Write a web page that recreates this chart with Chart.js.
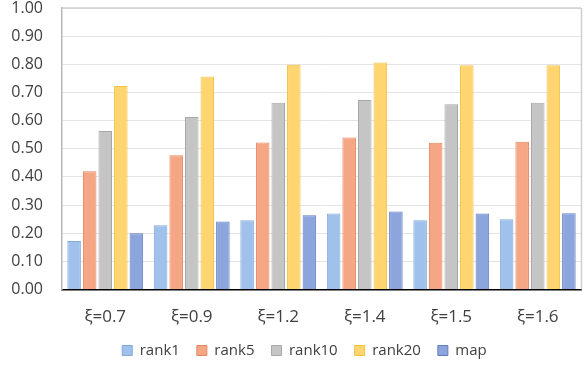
<!DOCTYPE html>
<html>
<head>
<meta charset="utf-8">
<script src="https://cdn.jsdelivr.net/npm/chart.js@4/dist/chart.umd.min.js"></script>
<style>
  html, body { margin: 0; padding: 0; background: #ffffff; overflow: hidden; }
  #wrap { position: relative; width: 584px; height: 366px; overflow: hidden; }
  #c { position: absolute; left: 0; top: 0; }
</style>
</head>
<body>
<div id="wrap"><canvas id="c" width="584" height="368"></canvas></div>
<script>
// Retrieval scores per ξ setting
const categories = ['ξ=0.7', 'ξ=0.9', 'ξ=1.2', 'ξ=1.4', 'ξ=1.5', 'ξ=1.6'];
const rank1  = [0.172, 0.228, 0.246, 0.270, 0.246, 0.250];
const rank5  = [0.420, 0.477, 0.522, 0.540, 0.521, 0.525];
const rank10 = [0.563, 0.613, 0.663, 0.673, 0.658, 0.663];
const rank20 = [0.723, 0.757, 0.798, 0.806, 0.797, 0.797];
const mapScore = [0.200, 0.242, 0.264, 0.277, 0.270, 0.271];
const yTicks = [0, 0.1, 0.2, 0.3, 0.4, 0.5, 0.6, 0.7, 0.8, 0.9, 1.0];

const font = "'Open Sans', 'Noto Sans', sans-serif";

// light frame around the plot area (top and right edges)
const frame = {
  id: 'frame',
  beforeDatasetsDraw(chart) {
    const { ctx, chartArea: a } = chart;
    ctx.save();
    ctx.strokeStyle = '#cfcfcf';
    ctx.lineWidth = 1.5;
    ctx.beginPath();
    ctx.moveTo(a.left, a.top);
    ctx.lineTo(a.right, a.top);
    ctx.moveTo(a.right + 0.5, a.top);
    ctx.lineTo(a.right + 0.5, a.bottom);
    ctx.stroke();
    ctx.restore();
  }
};

// legend sits centred under the full figure, a little right of the plot centre
const legendShift = {
  id: 'legendShift',
  afterLayout(chart) {
    const lg = chart.legend;
    if (lg) { lg.left += 14; lg.right += 14; }
  }
};

new Chart(document.getElementById('c'), {
  type: 'bar',
  data: {
    labels: categories,
    datasets: [
      { label: 'rank1',  data: rank1,  backgroundColor: '#a0c1eb', borderColor: '#83a8db', borderWidth: 1 },
      { label: 'rank5',  data: rank5,  backgroundColor: '#f5a785', borderColor: '#e6855f', borderWidth: 1 },
      { label: 'rank10', data: rank10, backgroundColor: '#c5c5c5', borderColor: '#a8a8a8', borderWidth: 1 },
      { label: 'rank20', data: rank20, backgroundColor: '#ffd571', borderColor: '#f2c141', borderWidth: 1 },
      { label: 'map',    data: mapScore, backgroundColor: '#8ca5dc', borderColor: '#5f7cc0', borderWidth: 1 }
    ]
  },
  options: {
    responsive: false,
    animation: false,
    devicePixelRatio: 1,
    layout: { padding: { top: 0, right: 3, left: 0, bottom: 0 } },
    datasets: { bar: { categoryPercentage: 0.9, barPercentage: 0.87 } },
    scales: {
      x: {
        grid: { display: false, drawTicks: false },
        border: { color: '#000000', width: 1.5 },
        ticks: { color: '#404040', font: { family: font, size: 17 }, padding: 17 },
        afterFit(scale) { scale.height = 36.5; }
      },
      y: {
        min: 0, max: 1,
        afterBuildTicks(axis) { axis.ticks = yTicks.map(v => ({ value: v })); },
        grid: { color: '#e4e4e4', lineWidth: 1, drawTicks: false },
        border: { color: '#b8b8b8', width: 1.5 },
        ticks: {
          color: '#404040', font: { family: font, size: 16 }, padding: 19,
          callback: v => Number(v).toFixed(2)
        },
        afterFit(scale) { scale.width = 62; scale.paddingTop = 8; }
      }
    },
    plugins: {
      legend: {
        position: 'bottom',
        labels: {
          color: '#404040', font: { family: font, size: 15 },
          boxWidth: 10, boxHeight: 10, padding: 17
        }
      },
      tooltip: { enabled: false }
    }
  },
  plugins: [frame, legendShift]
});
</script>
</body>
</html>
